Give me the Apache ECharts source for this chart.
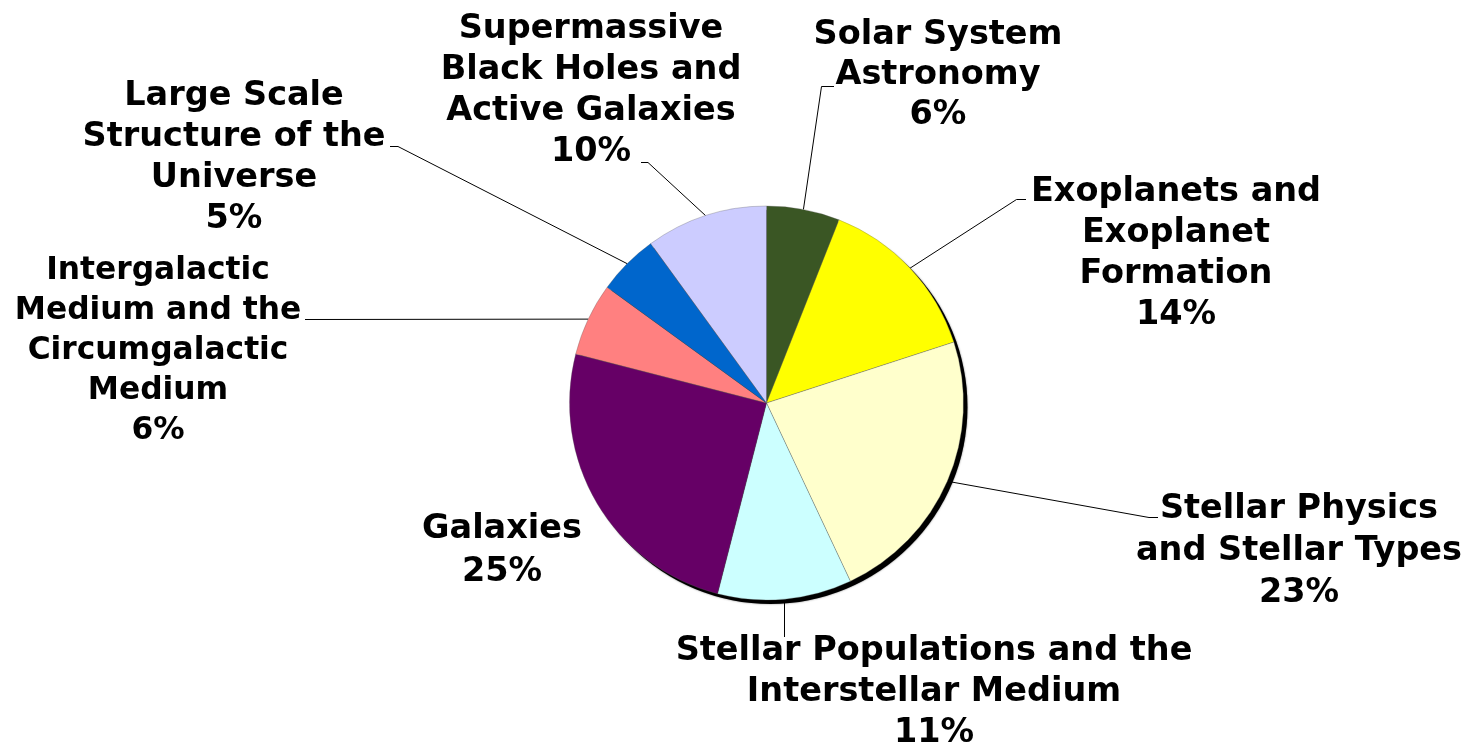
<!DOCTYPE html>
<html>
<head>
<meta charset="utf-8">
<script src="https://cdn.jsdelivr.net/npm/echarts@6/dist/echarts.min.js"></script>
<style>
  html, body { margin: 0; padding: 0; background: #ffffff; }
  #chart { width: 1474px; height: 746px; }
</style>
</head>
<body>
<div id="chart"></div>
<script>
// ---- data ----
const categories = [
  'Solar System\nAstronomy',
  'Exoplanets and\nExoplanet\nFormation',
  'Stellar Physics\nand Stellar Types',
  'Stellar Populations and the\nInterstellar Medium',
  'Galaxies',
  'Intergalactic\nMedium and the\nCircumgalactic\nMedium',
  'Large Scale\nStructure of the\nUniverse',
  'Supermassive\nBlack Holes and\nActive Galaxies'
];
const shares = [6, 14, 23, 11, 25, 6, 5, 10];

// ---- styles / layout ----
const colors = ['#3a5624', '#ffff00', '#ffffcc', '#ccffff', '#660066', '#ff8080', '#0066cc', '#ccccff'];
const labelCenters = [
  [938, 75], [1176, 254], [1299, 551], [934, 692],
  [502, 551], [158, 351], [234, 158], [591, 91]
];
const labelFont = [33.5, 33.5, 33.5, 33.5, 33.5, 31.3, 33.5, 33.5];
const labelLineHeight = [40, 41, 42, 41, 43, 40, 41, 41];
// elbow and end points of leader lines (null = no line)
const leaderBends = [
  [[821.5, 86.5], [834, 86.5]],
  [[1016.5, 199.5], [1026, 199.5]],
  [[1149, 517.5], [1158, 517.5]],
  'vertical',
  null,
  [[306, 319.5], [305, 319.5]],
  [[398, 146.5], [390, 146.5]],
  [[648, 162.5], [641, 162.5]]
];
const pieCenter = [766.5, 403];
const pieRadius = 197;

const chart = echarts.init(document.getElementById('chart'), null, { renderer: 'canvas' });

const data = categories.map((name, i) => ({
  name: name,
  value: shares[i],
  itemStyle: { color: colors[i] },
  label: { fontSize: labelFont[i], lineHeight: labelLineHeight[i] },
  labelLine: { show: leaderBends[i] !== null }
}));

const option = {
  backgroundColor: '#ffffff',
  animation: false,
  series: [
    {
      type: 'pie',
      silent: true,
      center: [pieCenter[0] + 4, pieCenter[1] + 4],
      radius: pieRadius,
      label: { show: false },
      labelLine: { show: false },
      itemStyle: { color: '#000000', shadowBlur: 2, shadowColor: 'rgba(0,0,0,0.5)' },
      data: [{ value: 1, name: 'shadow' }],
      z: 1
    },
    {
      type: 'pie',
      center: pieCenter,
      radius: pieRadius,
      startAngle: 90,
      clockwise: true,
      avoidLabelOverlap: false,
      z: 2,
      itemStyle: { borderColor: 'rgba(90,90,90,0.6)', borderWidth: 0.5 },
      label: {
        show: true,
        position: 'outside',
        color: '#000000',
        fontFamily: 'Verdana, "DejaVu Sans", sans-serif',
        fontWeight: 'bold',
        align: 'center',
        formatter: function (p) { return p.name + '\n' + p.value + '%'; }
      },
      labelLine: {
        show: true,
        length: 20,
        length2: 10,
        lineStyle: { color: '#000000', width: 1 }
      },
      labelLayout: function (params) {
        const i = params.dataIndex;
        const c = labelCenters[i];
        const res = { x: c[0], y: c[1], align: 'center', verticalAlign: 'middle' };
        const pts = params.labelLinePoints;
        const bend = leaderBends[i];
        if (pts && bend) {
          const s = pts[0];
          if (bend === 'vertical') {
            const vx = Math.round(s[0]) - 0.5;
            res.labelLinePoints = [[vx, s[1]], [vx, 620], [vx, 637]];
          } else {
            res.labelLinePoints = [[s[0], s[1]], bend[0], bend[1]];
          }
        }
        return res;
      },
      data: data
    }
  ]
};
chart.setOption(option);
</script>
</body>
</html>
